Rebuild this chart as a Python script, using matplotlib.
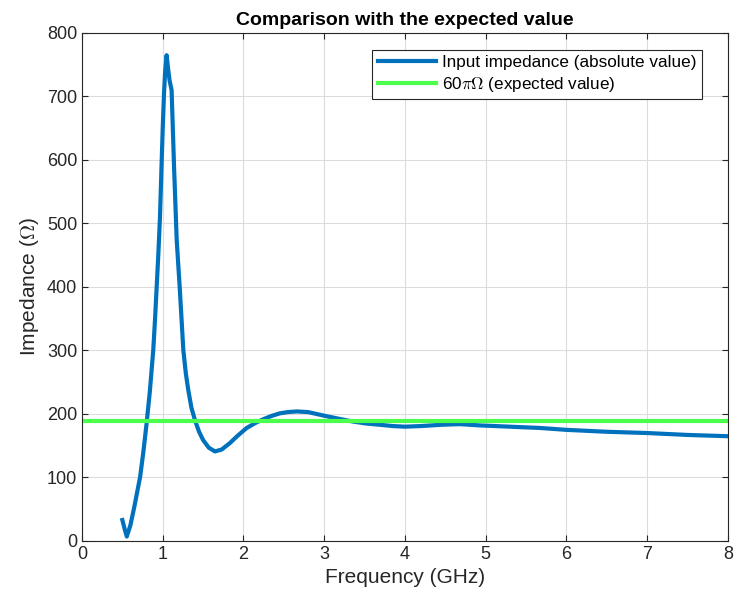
import numpy as np
import matplotlib.pyplot as plt

plt.rcParams['font.family'] = ['Liberation Sans', 'DejaVu Sans']
plt.rcParams['mathtext.fontset'] = 'cm'

# frequency (GHz) and |Zin| (ohm)
freq = [0.50, 0.53, 0.555, 0.60, 0.65, 0.72, 0.76, 0.80, 0.84, 0.883, 0.905,
        0.925, 0.945, 0.966, 0.985, 1.00, 1.016, 1.03, 1.048, 1.065, 1.085, 1.11,
        1.14, 1.173, 1.21, 1.255, 1.285, 1.316, 1.355, 1.40, 1.45, 1.50, 1.57,
        1.647, 1.73, 1.83, 1.93, 2.04, 2.15, 2.25, 2.35, 2.45, 2.55, 2.66, 2.80,
        3.01, 3.20, 3.36, 3.52, 3.69, 3.85, 4.00, 4.20, 4.45, 4.68, 4.93, 5.3,
        5.67, 6.0, 6.5, 7.0, 7.5, 8.0]
zin = [33, 18, 7, 25, 55, 101, 140, 185, 235, 301, 350, 400, 450, 510, 590, 650,
       705, 740, 765, 745, 725, 710, 590, 474, 400, 301, 265, 238, 210, 190, 172,
       159, 147, 141, 144, 154, 166, 178, 186, 192, 197, 201, 203, 204, 203,
       197, 192, 188, 185, 183, 181, 180, 181, 183, 184, 182, 180, 178, 175,
       172, 170, 167, 165]
expected = 60 * np.pi

fig = plt.figure(figsize=(7.34, 6.05), dpi=100)
ax = fig.add_axes([0.1117, 0.1058, 0.880, 0.8397])

ax.plot(freq, zin, color='#0072BD', lw=3, label='Input impedance (absolute value)')
ax.axhline(expected, color='#4DFF4D', lw=3, label=r'60$\pi\Omega$ (expected value)')

ax.set_xlim(0, 8)
ax.set_ylim(0, 800)
ax.set_xticks(range(0, 9))
ax.set_yticks(range(0, 801, 100))
ax.grid(True, color='#DCDCDC', lw=0.8)
ax.set_axisbelow(True)
ax.tick_params(direction='in', labelsize=13, colors='#262626', top=True, right=True, length=4)
for s in ax.spines.values():
    s.set_color('#262626')
    s.set_linewidth(0.8)

ax.set_xlabel('Frequency (GHz)', fontsize=15, color='#262626')
ax.set_ylabel(r'Impedance ($\Omega$)', fontsize=15, color='#262626')
ax.set_title('Comparison with the expected value', fontsize=14, fontweight='bold')

leg = ax.legend(loc='upper right', bbox_to_anchor=(0.96, 0.9665), borderaxespad=0,
                fontsize=12.3, fancybox=False, framealpha=1, edgecolor='#262626',
                handlelength=3.4, handletextpad=0.4, borderpad=0.3, labelspacing=0.3)
leg.get_frame().set_linewidth(0.8)

fig.savefig('out.png', dpi=100)
